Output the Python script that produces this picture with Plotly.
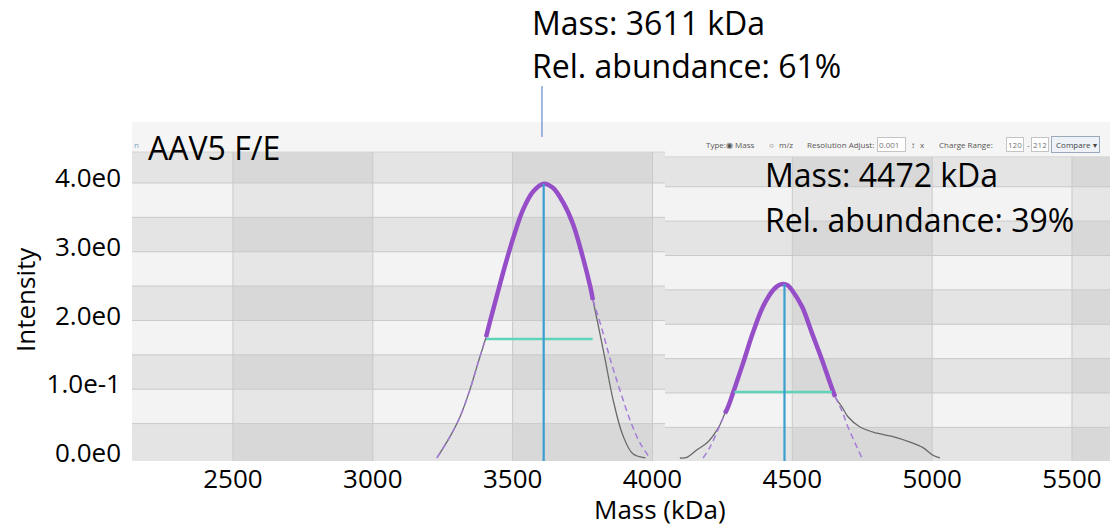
import plotly.graph_objects as go

# ---------------- data ----------------
# left species (~3611 kDa)
left_raw_x = [3229, 3276, 3312, 3347, 3376, 3405, 3420, 3443, 3473, 3502, 3538, 3574, 3612, 3644, 3680, 3716,
              3751, 3777, 3787, 3805, 3830, 3859, 3894, 3930, 3975]
left_raw_y = [0.00, 0.31, 0.60, 0.99, 1.38, 1.76, 2.00, 2.35, 2.80, 3.20, 3.62, 3.88, 3.99, 3.93, 3.72, 3.40,
              2.92, 2.50, 2.30, 1.95, 1.45, 0.85, 0.33, 0.06, 0.00]

left_fit_core_x = [3405, 3420, 3443, 3473, 3502, 3538, 3574, 3612, 3644, 3680, 3716, 3751, 3777, 3787]
left_fit_core_y = [1.76, 2.00, 2.35, 2.80, 3.20, 3.62, 3.88, 3.99, 3.93, 3.72, 3.40, 2.92, 2.50, 2.30]
left_fit_tail_l_x = [3229, 3276, 3312, 3347, 3376, 3405]
left_fit_tail_l_y = [0.00, 0.31, 0.60, 0.99, 1.38, 1.76]
left_fit_tail_r_x = [3787, 3819, 3848, 3884, 3920, 3955, 3991]
left_fit_tail_r_y = [2.30, 1.88, 1.45, 0.98, 0.55, 0.22, 0.00]

left_fwhm_x = [3405, 3786]
left_fwhm_y = [1.73, 1.73]
left_peak_mass = 3611
left_peak_height = 3.99

# right species (~4472 kDa)
right_raw_x = [4098, 4123, 4159, 4195, 4223, 4241, 4259, 4270, 4295, 4324, 4359, 4395, 4431, 4450, 4467, 4484,
               4499, 4535, 4570, 4606, 4635, 4653, 4678, 4699, 4742, 4803, 4860, 4921, 4967, 5003, 5028]
right_raw_y = [0.00, 0.01, 0.12, 0.22, 0.36, 0.48, 0.65, 0.74, 1.03, 1.38, 1.82, 2.20, 2.44, 2.51, 2.53, 2.51,
               2.44, 2.20, 1.82, 1.43, 1.09, 0.89, 0.74, 0.60, 0.45, 0.36, 0.31, 0.23, 0.15, 0.04, 0.00]

right_fit_core_x = [4259, 4270, 4295, 4324, 4359, 4395, 4431, 4450, 4467, 4484, 4499, 4535, 4570, 4606, 4635, 4653]
right_fit_core_y = [0.65, 0.74, 1.03, 1.38, 1.82, 2.20, 2.44, 2.51, 2.53, 2.51, 2.44, 2.20, 1.82, 1.43, 1.09, 0.89]
right_fit_tail_l_x = [4181, 4206, 4231, 4259]
right_fit_tail_l_y = [0.00, 0.16, 0.38, 0.65]
right_fit_tail_r_x = [4653, 4678, 4699, 4724, 4749]
right_fit_tail_r_y = [0.89, 0.68, 0.45, 0.22, 0.00]

right_fwhm_x = [4293, 4642]
right_fwhm_y = [0.96, 0.96]
right_peak_mass = 4472
right_peak_height = 2.53

x_tick_vals = [2500, 3000, 3500, 4000, 4500, 5000, 5500]
x_tick_text = ["2500", "3000", "3500", "4000", "4500", "5000", "5500"]
y_tick_vals = [0, 1, 2, 3, 4]
y_tick_text = ["0.0e0", "1.0e-1", "2.0e0", "3.0e0", "4.0e0"]

label_left = ["Mass: 3611 kDa", "Rel. abundance: 61%"]
label_right = ["Mass: 4472 kDa", "Rel. abundance: 39%"]
sample_name = "AAV5 F/E"

# ---------------- styling constants ----------------
X_RANGE = [2139, 5664.5]
Y_RANGE = [-0.044, 4.887]
X_SPLIT = 4045          # boundary between the two pasted screenshots
FONT = "Open Sans"

RAW_COLOR = "rgb(105,105,105)"
FIT_COLOR = "rgb(150,78,200)"
FIT_DASH_COLOR = "rgb(165,125,215)"
FWHM_COLOR = "rgb(95,212,185)"
PEAK_COLOR = "rgb(58,158,208)"

LIGHT = "#f3f3f3"
DARK = "#e4e4e4"
STRIP = "#f5f5f5"
GRID = "#c9c9c9"

fig = go.Figure()


def line(x, y, color, width, dash=None, shape="spline"):
    fig.add_trace(go.Scatter(x=x, y=y, mode="lines", hoverinfo="skip", showlegend=False,
                             line=dict(color=color, width=width, dash=dash, shape=shape, smoothing=1.0)))


# raw data
line(left_raw_x, left_raw_y, RAW_COLOR, 1.3)
line(right_raw_x, right_raw_y, RAW_COLOR, 1.3)
# fitted gaussian tails (dashed)
for xs, ys in [(left_fit_tail_l_x, left_fit_tail_l_y), (left_fit_tail_r_x, left_fit_tail_r_y),
               (right_fit_tail_l_x, right_fit_tail_l_y), (right_fit_tail_r_x, right_fit_tail_r_y)]:
    line(xs, ys, FIT_DASH_COLOR, 1.5, dash="6px,4px")
# fitted core (thick)
line(left_fit_core_x, left_fit_core_y, FIT_COLOR, 4.5)
line(right_fit_core_x, right_fit_core_y, FIT_COLOR, 4.5)
# FWHM bars
line(left_fwhm_x, left_fwhm_y, FWHM_COLOR, 2.5, shape="linear")
line(right_fwhm_x, right_fwhm_y, FWHM_COLOR, 2.5, shape="linear")
# peak markers
line([left_peak_mass, left_peak_mass], [Y_RANGE[0], left_peak_height], PEAK_COLOR, 2.2, shape="linear")
line([right_peak_mass, right_peak_mass], [Y_RANGE[0], right_peak_height], PEAK_COLOR, 2.2, shape="linear")

# ---------------- background of the two software screenshots ----------------
shapes = []


def rect(x0, x1, y0, y1, color):
    shapes.append(dict(type="rect", xref="x", yref="y", x0=x0, x1=x1, y0=y0, y1=y1,
                       fillcolor=color, line=dict(width=0), layer="below"))


def hline(x0, x1, y, color=GRID):
    shapes.append(dict(type="line", xref="x", yref="y", x0=x0, x1=x1, y0=y, y1=y,
                       line=dict(color=color, width=1), layer="below"))


def vline(x, y0, y1, color=GRID):
    shapes.append(dict(type="line", xref="x", yref="y", x0=x, x1=x, y0=y0, y1=y1,
                       line=dict(color=color, width=1), layer="below"))


for (xa, xb, off, strip_y, cols, vgrid) in [
        (X_RANGE[0], X_SPLIT, 0.0, 4.45, [(2500, 3000), (3500, 4000)], [2500, 3000, 3500, 4000]),
        (X_SPLIT, X_RANGE[1], -0.055, 4.38, [(4500, 5000), (5500, X_RANGE[1])], [4500, 5000, 5500])]:
    for k in range(9):
        y0 = 0.5 * k + off
        y1 = min(0.5 * k + 0.5 + off, strip_y)
        if k == 0:
            y0 = Y_RANGE[0] - 0.01
        rect(xa, xb, y0, y1, DARK if k % 2 == 0 else LIGHT)
    for (c0, c1) in cols:
        rect(c0, c1, Y_RANGE[0] - 0.01, strip_y, "rgba(0,0,0,0.05)")
    rect(xa, xb, strip_y, Y_RANGE[1], STRIP)
    for k in range(1, 9):
        hline(xa, xb, 0.5 * k + off)
    hline(xa, xb, strip_y, "#d4d4d4")
    for gx in vgrid:
        vline(gx, Y_RANGE[0], strip_y)

# callout line of the upper label
shapes.append(dict(type="line", xref="paper", yref="paper", x0=0.4158, x1=0.4158, y0=0.956, y1=1.106,
                   line=dict(color="#4472c4", width=1)))

# ---------------- annotations ----------------
ann = []


def text(t, x, y, size, xanchor="left", color="black", angle=0, **kw):
    d = dict(text=t, xref="paper", yref="paper", x=x, y=y, xanchor=xanchor, yanchor="middle",
             showarrow=False, textangle=angle, font=dict(family=FONT, size=size, color=color))
    d.update(kw)
    ann.append(d)


text(label_left[0], 0.4037, 1.294, 32)
text(label_left[1], 0.4037, 1.166, 32)
text(label_right[0], 0.640, 0.845, 32)
text(label_right[1], 0.640, 0.712, 32)
text(sample_name, 0.0142, 0.9245, 32)
text("Intensity", -0.1085, 0.475, 26, xanchor="center", angle=-90)
text("Mass (kDa)", 0.5355, -0.1416, 26, xanchor="center")
text("n", 0.0, 0.935, 8, color="#7f9fc0")

# toolbar of the second screenshot (tiny UI text)
TB_Y = 0.935
tb = [("Type:", 704), ("◉", 724), ("Mass", 733), ("○", 767), ("m/z", 777), ("Resolution Adjust:", 805),
      ("↕", 909), ("x", 918), ("Charge Range:", 937), ("-", 1025)]
for t, px in tb:
    text(t, (px - 132) / 986, TB_Y, 8, color="#555555")
for t, px in [("0.001  ", 877), ("120", 1006), ("212", 1031)]:
    text(t, (px - 132) / 986, TB_Y, 8, color="#777777", bgcolor="white", bordercolor="#c4c4c4", borderwidth=1,
         borderpad=1)
text(" Compare ▾", (1051 - 132) / 986, TB_Y, 8, color="#444444", bgcolor="#eef2f7", bordercolor="#9aaabb",
     borderwidth=1, borderpad=2)

# the page body adds an 8px margin around the figure: size the figure so that the
# plot area lands at x 132..1118 and y 122..461 of the window
fig.update_layout(
    width=1110, height=518,
    margin=dict(l=124, r=0, t=114, b=65),
    paper_bgcolor="white",
    plot_bgcolor=LIGHT,
    showlegend=False,
    shapes=shapes,
    annotations=ann,
    font=dict(family=FONT, color="black"),
    xaxis=dict(range=X_RANGE, tickvals=x_tick_vals, ticktext=x_tick_text, showgrid=False, zeroline=False,
               showline=False, ticks="", automargin=False, tickfont=dict(family=FONT, size=26, color="black")),
    yaxis=dict(range=Y_RANGE, tickvals=y_tick_vals, ticktext=y_tick_text, showgrid=False, zeroline=False,
               showline=False, ticks="", ticklabelshift=-5, ticklabelstandoff=10, automargin=False,
               tickfont=dict(family=FONT, size=26, color="black")),
)

fig.write_html("out.html")
